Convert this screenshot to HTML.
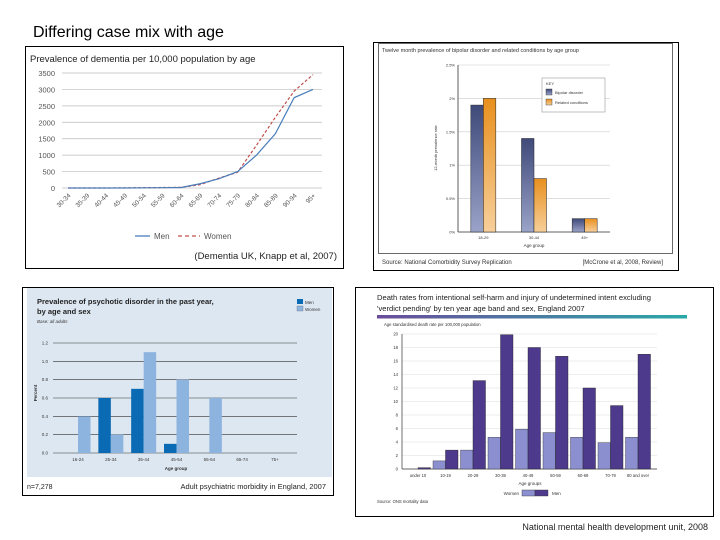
<!DOCTYPE html>
<html><head><meta charset="utf-8"><style>
body{margin:0;background:#fff;}
svg{display:block;font-family:"Liberation Sans",sans-serif;}
</style></head><body>
<svg id="s" width="720" height="540" viewBox="0 0 720 540" xmlns="http://www.w3.org/2000/svg">
<defs>
<linearGradient id="gBlue" x1="0" y1="0" x2="0" y2="1"><stop offset="0" stop-color="#3f4a7a"/><stop offset="1" stop-color="#9aa3c8"/></linearGradient>
<linearGradient id="gOr" x1="0" y1="0" x2="0" y2="1"><stop offset="0" stop-color="#e8901e"/><stop offset="1" stop-color="#f7cf9a"/></linearGradient>
<linearGradient id="gBar" x1="0" y1="0" x2="1" y2="0"><stop offset="0" stop-color="#6a4c9c"/><stop offset="1" stop-color="#2aa8a8"/></linearGradient>
</defs>
<text x="33" y="37" font-size="16" fill="#000">Differing case mix with age</text>

<!-- Panel 1 -->
<g>
<rect x="25.5" y="46.5" width="318" height="222" fill="#fff" stroke="#000" stroke-width="1"/>
<text x="30" y="62" font-size="9.5" fill="#222">Prevalence of dementia per 10,000 population by age</text>
<g id="p1"></g>
<line x1="135" y1="236" x2="150" y2="236" stroke="#4a7ebb" stroke-width="1.3"/>
<text x="154" y="239" font-size="8" fill="#555">Men</text>
<line x1="178" y1="236" x2="200" y2="236" stroke="#c0504d" stroke-width="1.3" stroke-dasharray="4,3"/>
<text x="204" y="239" font-size="8" fill="#555">Women</text>
<text x="337" y="259" font-size="9.5" fill="#222" text-anchor="end">(Dementia UK, Knapp et al, 2007)</text>
</g>

<!-- Panel 2 -->
<g>
<rect x="373.5" y="42.5" width="305" height="228" fill="#fff" stroke="#000" stroke-width="1"/>
<rect x="378.5" y="43.5" width="294" height="210" fill="#fff" stroke="#444" stroke-width="0.8"/>
<text x="382" y="52" font-size="5.5" fill="#333">Twelve month prevalence of bipolar disorder and related conditions by age group</text>
<g id="p2"></g>
<rect x="542" y="78" width="63" height="34" fill="#fff" stroke="#999" stroke-width="0.6"/>
<text x="546" y="85" font-size="4" fill="#333">KEY</text>
<rect x="546" y="89" width="6" height="6" fill="url(#gBlue)" stroke="#333" stroke-width="0.4"/>
<text x="555" y="94" font-size="4" fill="#333">Bipolar disorder</text>
<rect x="546" y="99" width="6" height="6" fill="url(#gOr)" stroke="#333" stroke-width="0.4"/>
<text x="555" y="104" font-size="4" fill="#333">Related conditions</text>
<text x="437" y="148" font-size="4" fill="#333" text-anchor="middle" transform="rotate(-90 437 148)">12-month prevalence rate</text>
<text x="534" y="247" font-size="4.5" fill="#333" text-anchor="middle">Age group</text>
<text x="382" y="264" font-size="6" fill="#333">Source: National Comorbidity Survey Replication</text>
<text x="663" y="264" font-size="6" fill="#333" text-anchor="end">[McCrone et al, 2008, Review]</text>
</g>

<!-- Panel 3 -->
<g>
<rect x="22.5" y="287.5" width="311" height="208" fill="#fff" stroke="#000" stroke-width="1"/>
<rect x="27" y="288" width="305" height="189" fill="#dde7f1"/>
<text x="37" y="304" font-size="7.5" font-weight="bold" fill="#222">Prevalence of psychotic disorder in the past year,</text>
<text x="37" y="314" font-size="7.5" font-weight="bold" fill="#222">by age and sex</text>
<text x="37" y="323" font-size="4.5" font-style="italic" fill="#333">Base: all adults</text>
<rect x="297" y="299" width="6" height="5" fill="#0a6ab4"/>
<text x="305" y="304" font-size="4.5" fill="#333">Men</text>
<rect x="297" y="306" width="6" height="5" fill="#8db4de" stroke="#556" stroke-width="0.3"/>
<text x="305" y="311" font-size="4.5" fill="#333">Women</text>
<g id="p3"></g>
<text x="37" y="393" font-size="4.5" font-weight="bold" fill="#333" text-anchor="middle" transform="rotate(-90 37 393)">Percent</text>
<text x="176" y="470" font-size="4.5" font-weight="bold" fill="#333" text-anchor="middle">Age group</text>
<text x="27" y="489" font-size="7" fill="#222">n=7,278</text>
<text x="326" y="489" font-size="7.5" fill="#222" text-anchor="end">Adult psychiatric morbidity in England, 2007</text>
</g>

<!-- Panel 4 -->
<g>
<rect x="355.5" y="287.5" width="358" height="229" fill="#fff" stroke="#000" stroke-width="1"/>
<text x="377" y="300" font-size="7.6" fill="#222">Death rates from intentional self-harm and injury of undetermined intent excluding</text>
<text x="377" y="311" font-size="7.6" fill="#222">'verdict pending' by ten year age band and sex, England 2007</text>
<rect x="377" y="315" width="310" height="3.5" fill="url(#gBar)"/>
<text x="384" y="326" font-size="4.2" fill="#333">Age standardised death rate per 100,000 population</text>
<g id="p4"></g>
<text x="530" y="485" font-size="4.5" fill="#333" text-anchor="middle">Age groups</text>
<text x="519" y="495" font-size="4.5" fill="#333" text-anchor="end">Women</text>
<rect x="522" y="490" width="13" height="6" fill="#8b8fd0" stroke="#333" stroke-width="0.4"/>
<rect x="535" y="490" width="13" height="6" fill="#4d3a8c" stroke="#333" stroke-width="0.4"/>
<text x="552" y="495" font-size="4.5" fill="#333">Men</text>
<text x="377" y="503" font-size="4.2" fill="#333">Source: ONS mortality data</text>
<text x="708" y="530" font-size="9" fill="#222" text-anchor="end">National mental health development unit, 2008</text>
</g>
</svg>
<script>
// Panel 1 data
var demCats=["30-34","35-39","40-44","45-49","50-54","55-59","60-64","65-69","70-74","75-79","80-84","85-89","90-94","95+"];
var demMen=[0,0,0,0,5,10,15,130,280,500,1000,1650,2750,3000];
var demWomen=[0,0,0,5,10,15,20,100,300,480,1300,2150,2950,3450];
var demTicks=[0,500,1000,1500,2000,2500,3000,3500];
// Panel 2 data
var bipCats=["18-29","30-44","45+"];
var bipBipolar=[1.9,1.4,0.2];
var bipRelated=[2.0,0.8,0.2];
var bipTicks=[0,0.5,1,1.5,2,2.5];
// Panel 3 data
var psyCats=["16-24","25-34","35-44","45-54","55-64","65-74","75+"];
var psyMen=[0,0.6,0.7,0.1,0,0,0];
var psyWomen=[0.4,0.2,1.1,0.8,0.6,0,0];
var psyTicks=[0,0.2,0.4,0.6,0.8,1.0,1.2];
// Panel 4 data
var shCats=["under 10","10-19","20-29","30-39","40-49","50-59","60-69","70-79","80 and over"];
var shWomen=[0,1.2,2.8,4.7,5.9,5.4,4.7,3.9,4.7];
var shMen=[0.2,2.8,13.1,19.9,18,16.7,12,9.4,17];
var shTicks=[0,2,4,6,8,10,12,14,16,18,20];

var NS="http://www.w3.org/2000/svg";
function mk(parent,tag,attrs,txt){var e=document.createElementNS(NS,tag);for(var k in attrs)e.setAttribute(k,attrs[k]);if(txt!==undefined)e.textContent=txt;parent.appendChild(e);return e;}

// Panel 1
(function(){
var g=document.getElementById('p1');
var y=function(v){return 188-v/3500*115;};
var x=function(i){return 68+i*(313-68)/(demCats.length-1);};
demTicks.forEach(function(t){
 var l=mk(g,'line',{x1:62,x2:322,y1:y(t),y2:y(t),stroke:'#bbb','stroke-width':0.7});
 
 
 var tx=mk(g,'text',{x:55,y:y(t)+3,'font-size':7.5,fill:'#555','text-anchor':'end'},t);
 
 
});
demCats.forEach(function(c,i){
 var tx=mk(g,'text',{x:x(i)+3,y:196,'font-size':6.5,fill:'#555','text-anchor':'end',transform:'rotate(-45 '+(x(i)+3)+' 196)'},c);
 
 
});
var pw=demWomen.map(function(v,i){return x(i)+','+y(v);}).join(' ');
var lw=mk(g,'polyline',{points:pw,fill:'none',stroke:'#c0504d','stroke-width':1.2,'stroke-dasharray':'3,2'});


var pm=demMen.map(function(v,i){return x(i)+','+y(v);}).join(' ');
var lm=mk(g,'polyline',{points:pm,fill:'none',stroke:'#4a7ebb','stroke-width':1.2});


})();

// Panel 2
(function(){
var g=document.getElementById('p2');
var y=function(v){return 232-v/2.5*167;};
var cx=[483.5,534,584.5];
bipTicks.forEach(function(t){
 var l=mk(g,'line',{x1:458,x2:610,y1:y(t),y2:y(t),stroke:'#ccc','stroke-width':0.6});
 
 
 var tx=mk(g,'text',{x:455,y:y(t)+1.5,'font-size':4,fill:'#333','text-anchor':'end'},t+'%');
 
 
});
var ax=mk(g,'line',{x1:458,x2:458,y1:y(2.5),y2:232,stroke:'#333','stroke-width':0.8});


var xa=mk(g,'line',{x1:458,x2:610,y1:232,y2:232,stroke:'#333','stroke-width':0.8});


bipCats.forEach(function(c,i){
 var c0=458+(610-458)*(i+0.5)/3;
 var b1=mk(g,'rect',{x:c0-12.5,y:y(bipBipolar[i]),width:12.5,height:232-y(bipBipolar[i]),fill:'url(#gBlue)',stroke:'#222','stroke-width':0.5});
 
 
 var b2=mk(g,'rect',{x:c0,y:y(bipRelated[i]),width:12.5,height:232-y(bipRelated[i]),fill:'url(#gOr)',stroke:'#222','stroke-width':0.5});
 
 
 var tx=mk(g,'text',{x:c0,y:239,'font-size':4,fill:'#333','text-anchor':'middle'},c);
 
 
});
})();

// Panel 3
(function(){
var g=document.getElementById('p3');
var y=function(v){return 453-v/1.2*110;};
psyTicks.forEach(function(t){
 var l=mk(g,'line',{x1:53,x2:297,y1:y(t),y2:y(t),stroke:'#333','stroke-width':0.6});
 
 
 var tx=mk(g,'text',{x:48,y:y(t)+1.5,'font-size':4.5,fill:'#333','text-anchor':'end'},t.toFixed(1));
 
 
});
psyCats.forEach(function(c,i){
 var c0=78+i*(275-78)/6;
 var b1=mk(g,'rect',{x:c0-12.5,y:y(psyMen[i]),width:12.5,height:453-y(psyMen[i]),fill:'#0a6ab4'});
 
 
 var b2=mk(g,'rect',{x:c0,y:y(psyWomen[i]),width:12.5,height:453-y(psyWomen[i]),fill:'#8db4de'});
 
 
 var tx=mk(g,'text',{x:c0,y:461,'font-size':4.5,fill:'#333','text-anchor':'middle'},c);
 
 
});
})();

// Panel 4
(function(){
var g=document.getElementById('p4');
var y=function(v){return 469-v/20*135;};
shTicks.forEach(function(t){
 if(t>0){var l=mk(g,'line',{x1:402,x2:657,y1:y(t),y2:y(t),stroke:'#ddd','stroke-width':0.6});
 
 }
 var tx=mk(g,'text',{x:398,y:y(t)+1.5,'font-size':4.2,fill:'#333','text-anchor':'end'},t);
 
 
});
var ax=mk(g,'line',{x1:402,x2:402,y1:y(20),y2:469,stroke:'#333','stroke-width':0.7});


var xa=mk(g,'line',{x1:402,x2:657,y1:469,y2:469,stroke:'#333','stroke-width':0.7});


shCats.forEach(function(c,i){
 var c0=418+i*(638-418)/8;
 var b1=mk(g,'rect',{x:c0-12.5,y:y(shWomen[i]),width:12.5,height:469-y(shWomen[i]),fill:'#8b8fd0',stroke:'#333','stroke-width':0.4});
 
 
 var b2=mk(g,'rect',{x:c0,y:y(shMen[i]),width:12.5,height:469-y(shMen[i]),fill:'#4d3a8c',stroke:'#222','stroke-width':0.4});
 
 
 var tx=mk(g,'text',{x:c0,y:477,'font-size':4.2,fill:'#333','text-anchor':'middle'},c);
 
 
});
})();
</script>
</body></html>
